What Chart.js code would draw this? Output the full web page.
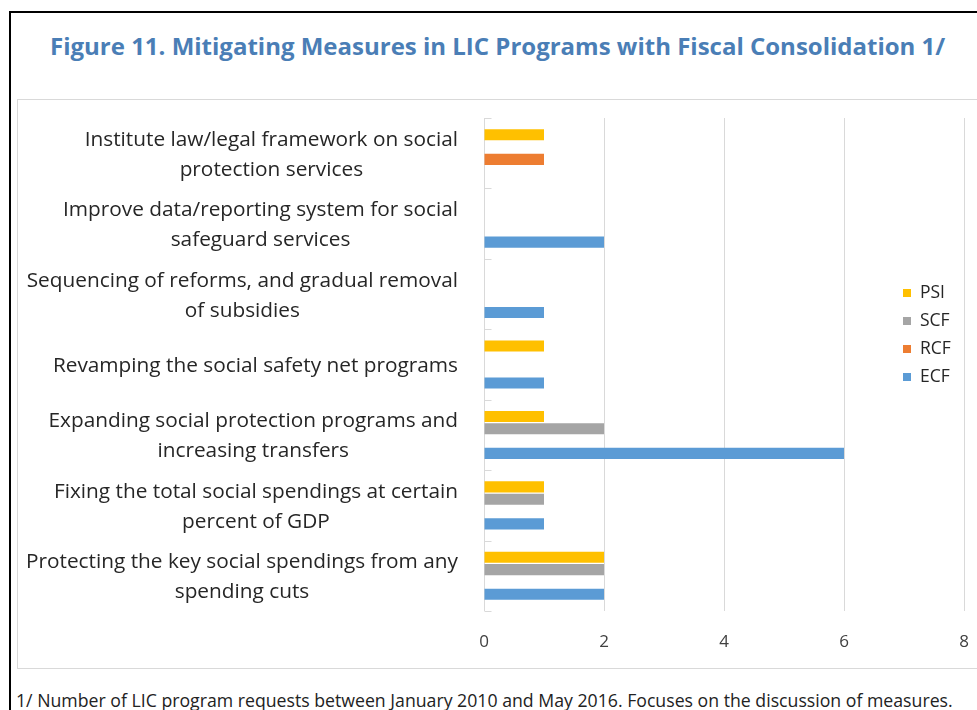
<!DOCTYPE html>
<html>
<head>
<meta charset="utf-8">
<script src="https://cdn.jsdelivr.net/npm/chart.js@4.4.1/dist/chart.umd.min.js"></script>
<style>
  html, body { margin: 0; padding: 0; background: #fff; overflow: hidden; }
  body { width: 977px; height: 710px; position: relative; font-family: "Open Sans", sans-serif; }
  #frame { position: absolute; left: 9px; top: 11px; width: 1000px; height: 800px; border: 2px solid #000; }
  #plotbox { position: absolute; left: 17px; top: 99px; width: 1000px; height: 568px; border: 1px solid #d9d9d9; }
  #title { position: absolute; left: 50px; top: 30.5px; line-height: 30px; font-size: 24px; font-weight: bold; color: #4a7eb6; white-space: nowrap; }
  #note { position: absolute; left: 16px; top: 688px; line-height: 24px; font-size: 17.7px; color: #222; white-space: nowrap; }
  #chart { position: absolute; left: 0; top: 0; }
</style>
</head>
<body>
<div id="frame"></div>
<div id="plotbox"></div>
<div id="title">Figure 11. Mitigating Measures in LIC Programs with Fiscal Consolidation 1/</div>
<div id="note">1/ Number of LIC program requests between January 2010 and May 2016. Focuses on the discussion of measures.</div>
<canvas id="chart" width="977" height="710"></canvas>
<script>
// Kategorien (von oben nach unten)
const categories = [
  ["Institute law/legal framework on social", "protection services"],
  ["Improve data/reporting system for social", "safeguard services"],
  ["Sequencing of reforms, and gradual removal", "of subsidies"],
  ["Revamping the social safety net programs"],
  ["Expanding social protection programs and", "increasing transfers"],
  ["Fixing the total social spendings at certain", "percent of GDP"],
  ["Protecting the key social spendings from any", "spending cuts"]
];

const seriesNames = ["PSI", "SCF", "RCF", "ECF"];
const psiValues = [1, null, null, 1, 1, 1, 2];
const scfValues = [null, null, null, null, 2, 1, 2];
const rcfValues = [1, null, null, null, null, null, null];
const ecfValues = [null, 2, 1, 1, 6, 1, 2];
const xTicks = [0, 2, 4, 6, 8];

const colors = ["#ffc000", "#a5a5a5", "#ed7d31", "#5b9bd5"];
const allValues = [psiValues, scfValues, rcfValues, ecfValues];

// Beschriftungen der Kategorien: jede Zeile zentriert, Block rechtsbündig
const categoryLabels = {
  id: "categoryLabels",
  afterDraw(chart) {
    const ctx = chart.ctx;
    const yScale = chart.scales.y;
    const xScale = chart.scales.x;
    const lineH = 30;
    const right = 458;
    ctx.save();
    // kleine Teilstriche an den Kategoriegrenzen
    ctx.strokeStyle = "#d9d9d9";
    ctx.lineWidth = 1;
    const x0 = Math.round(xScale.getPixelForValue(0)) + 0.5;
    for (let i = 0; i <= categories.length; i++) {
      const yy = Math.round(yScale.getPixelForValue(i - 0.5)) + 0.5;
      ctx.beginPath();
      ctx.moveTo(x0, yy);
      ctx.lineTo(x0 + 7, yy);
      ctx.stroke();
    }
    ctx.font = "20.8px 'Open Sans'";
    ctx.fillStyle = "#262626";
    ctx.textAlign = "center";
    ctx.textBaseline = "middle";
    categories.forEach((lines, i) => {
      const y = yScale.getPixelForValue(i) + 1.5;
      const maxW = Math.max(...lines.map(l => ctx.measureText(l).width));
      const cx = right - maxW / 2;
      lines.forEach((l, j) => {
        ctx.fillText(l, cx, y + (j - (lines.length - 1) / 2) * lineH);
      });
    });
    ctx.restore();
  }
};

// Legende innerhalb der Zeichenfläche
const insideLegend = {
  id: "insideLegend",
  afterDraw(chart) {
    const ctx = chart.ctx;
    ctx.save();
    ctx.font = "17.5px 'Open Sans'";
    ctx.textBaseline = "middle";
    ctx.textAlign = "left";
    chart.data.datasets.forEach((ds, k) => {
      const y = 293 + k * 28;
      ctx.fillStyle = ds.backgroundColor;
      ctx.fillRect(903, y - 4, 8, 8);
      ctx.fillStyle = "#262626";
      ctx.fillText(ds.label, 920, y);
    });
    ctx.restore();
  }
};

new Chart(document.getElementById("chart"), {
  type: "bar",
  data: {
    labels: categories.map(c => c.join(" ")),
    datasets: seriesNames.map((name, k) => ({
      label: name,
      data: allValues[k],
      backgroundColor: colors[k],
      categoryPercentage: 0.7,
      barPercentage: 0.9
    }))
  },
  options: {
    indexAxis: "y",
    responsive: false,
    animation: false,
    layout: { padding: { top: 118, right: 13, bottom: 0, left: 0 } },
    plugins: {
      legend: { display: false },
      tooltip: { enabled: false }
    },
    scales: {
      y: {
        ticks: { display: false },
        grid: { display: false },
        border: { display: false },
        afterFit: s => { s.width = 484; }
      },
      x: {
        min: 0,
        max: 8,
        afterBuildTicks: s => { s.ticks = xTicks.map(v => ({ value: v })); },
        ticks: {
          padding: 21,
          color: "#404040",
          font: { family: "'Open Sans'", size: 17 }
        },
        grid: { color: "#d9d9d9", lineWidth: 1, drawTicks: false },
        border: { display: false },
        afterFit: s => { s.height = 99; s.paddingLeft = 0; s.paddingRight = 0; }
      }
    }
  },
  plugins: [categoryLabels, insideLegend]
});
</script>
</body>
</html>
